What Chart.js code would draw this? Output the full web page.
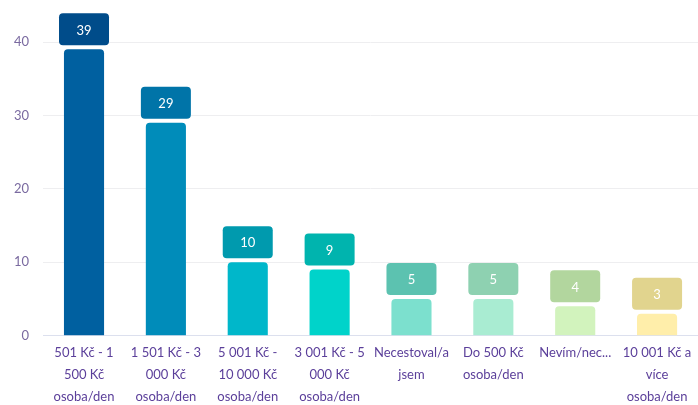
<!DOCTYPE html>
<html>
<head>
<meta charset="utf-8">
<script src="https://cdn.jsdelivr.net/npm/chart.js@4"></script>
<style>
  html, body { margin: 0; padding: 0; background: #fff; }
  #wrap { width: 698px; height: 405px; }
</style>
</head>
<body>
<div id="wrap"><canvas id="myBarChart"></canvas></div>
<script>
// data
const categories = [
  ["501 Kč - 1", "500 Kč", "osoba/den"],
  ["1 501 Kč - 3", "000 Kč", "osoba/den"],
  ["5 001 Kč -", "10 000 Kč", "osoba/den"],
  ["3 001 Kč - 5", "000 Kč", "osoba/den"],
  ["Necestoval/a", "jsem"],
  ["Do 500 Kč", "osoba/den"],
  ["Nevím/nec..."],
  ["10 001 Kč a", "více", "osoba/den"]
];
const values = [39, 29, 10, 9, 5, 5, 4, 3];
const yTicks = [0, 10, 20, 30, 40];

const barColors = ["#0060A0", "#008CBA", "#00B7CA", "#00D3CA", "#7CE0CE", "#A9ECD2", "#D2F3BD", "#FFEEAA"];
const boxColors = ["#004C8A", "#0074A8", "#009AAE", "#00B4AE", "#5CC2B0", "#8ED1B1", "#B2D69E", "#E1D48E"];

const FONT = "Lato, 'DejaVu Sans', sans-serif";

// value boxes above the bars
const valueBoxes = {
  id: "valueBoxes",
  afterDraw(chart) {
    const ctx = chart.ctx;
    const meta = chart.getDatasetMeta(0);
    meta.data.forEach((bar, i) => {
      const w = 50, h = 32;
      const x = bar.x - w / 2;
      const y = bar.y - 4 - h;
      ctx.save();
      ctx.fillStyle = boxColors[i];
      ctx.beginPath();
      ctx.roundRect(x, y, w, h, 4);
      ctx.fill();
      ctx.fillStyle = "#ffffff";
      ctx.font = "13px " + FONT;
      ctx.textAlign = "center";
      ctx.textBaseline = "middle";
      ctx.fillText(String(values[i]), bar.x, y + h / 2 + 1);
      ctx.restore();
    });
  }
};

let ctx = document.getElementById("myBarChart").getContext("2d");
let myChart = new Chart(ctx, {
  type: "bar",
  data: {
    labels: categories,
    datasets: [
      {
        data: values,
        backgroundColor: barColors,
        borderRadius: 4,
        borderSkipped: "start",
        categoryPercentage: 1,
        barPercentage: 0.49,
      },
    ],
  },
  options: {
    responsive: true,
    maintainAspectRatio: false,
    animation: false,
    layout: { padding: { top: 42, left: 0, right: 0, bottom: -9 } },
    plugins: {
      legend: { display: false },
      tooltip: { enabled: false },
    },
    scales: {
      x: {
        grid: { display: false, drawTicks: false },
        border: { display: true, color: "#DCE0EE" },
        ticks: {
          color: "#5B3F9A",
          font: { family: FONT, size: 13, lineHeight: 1.7 },
          maxRotation: 0,
          autoSkip: false,
          padding: 6,
        },
      },
      y: {
        min: 0,
        max: 40,
        afterBuildTicks(axis) {
          axis.ticks = yTicks.map(v => ({ value: v }));
        },
        grid: { color: "#EEEEF0", drawTicks: false },
        border: { display: false },
        ticks: {
          color: "#7A6AA0",
          font: { family: FONT, size: 13 },
          padding: 14,
        },
      },
    },
  },
  plugins: [valueBoxes],
});
</script>
</body>
</html>
